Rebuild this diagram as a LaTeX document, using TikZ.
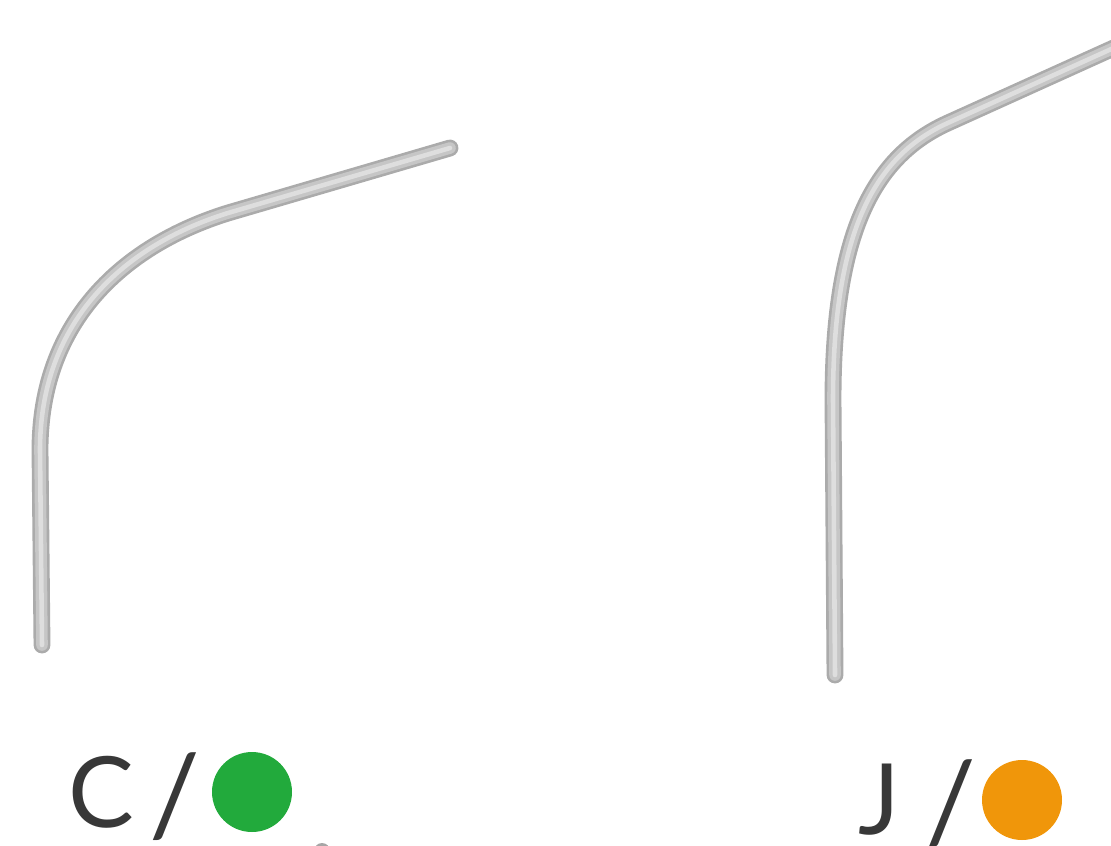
\documentclass[tikz,border=0pt]{standalone}
\usepackage{fontspec}
\setmainfont{Lato}
\usepackage{xcolor}
\usetikzlibrary{positioning}

\definecolor{tubeedge}{HTML}{ABABAB}
\definecolor{tubemid}{HTML}{C6C6C6}
\definecolor{tubelight}{HTML}{DEDEDE}
\definecolor{dotgreen}{HTML}{22AA3C}
\definecolor{dotorange}{HTML}{F0960A}
\definecolor{labgray}{HTML}{383838}

\tikzset{
  tubeout/.style={draw=tubeedge, line width=9.6pt, line cap=round, line join=round},
  tubein/.style={draw=tubemid, line width=6.6pt, line cap=round, line join=round},
  tubehi/.style={draw=tubelight, line width=2.6pt, line cap=round, line join=round},
  lbl/.style={text=labgray, inner sep=0pt, anchor=base west,
    font=\fontsize{56}{60}\selectfont},
  dot/.style={circle, inner sep=0pt, minimum size=1.6cm}
}
\newcommand{\tallslash}{\raisebox{-0.16cm}{\fontsize{64}{64}\selectfont/}}

\begin{document}
\begin{tikzpicture}[x=0.02cm, y=-0.02cm]
  % Frame in pixel units
  \useasboundingbox (0,0) rectangle (1111,845);

  % Tube ends
  \coordinate (c0) at (42,645);
  \coordinate (c1) at (40,450);
  \coordinate (c2) at (228,213);
  \coordinate (c3) at (450,148);
  \coordinate (j0) at (835,675);
  \coordinate (j1) at (833,400);
  \coordinate (j2) at (950,122);
  \coordinate (j3) at (1118,46);

  % Left tube
  \foreach \st in {tubeout,tubein,tubehi}
    \draw[\st] (c0) -- (c1) .. controls (40,320) and (125,245) .. (c2) -- (c3);

  % Right tube
  \foreach \st in {tubeout,tubein,tubehi}
    \draw[\st] (j0) -- (j1) .. controls (833,230) and (875,155) .. (j2) -- (j3);

  % Labels below each tube
  \node[lbl] (labC) at (68,827) {C\kern0.16em\tallslash};
  \node[dot, fill=dotgreen] (dotC) at (252,792) {};
  \node[lbl] (labJ) at (858,834) {J\kern0.26em\tallslash};
  \node[dot, fill=dotorange] (dotJ) at (1022,800) {};

  % Edge of a shape cut off at the bottom
  \fill[black!35] (322,851) circle (8);
\end{tikzpicture}
\end{document}
